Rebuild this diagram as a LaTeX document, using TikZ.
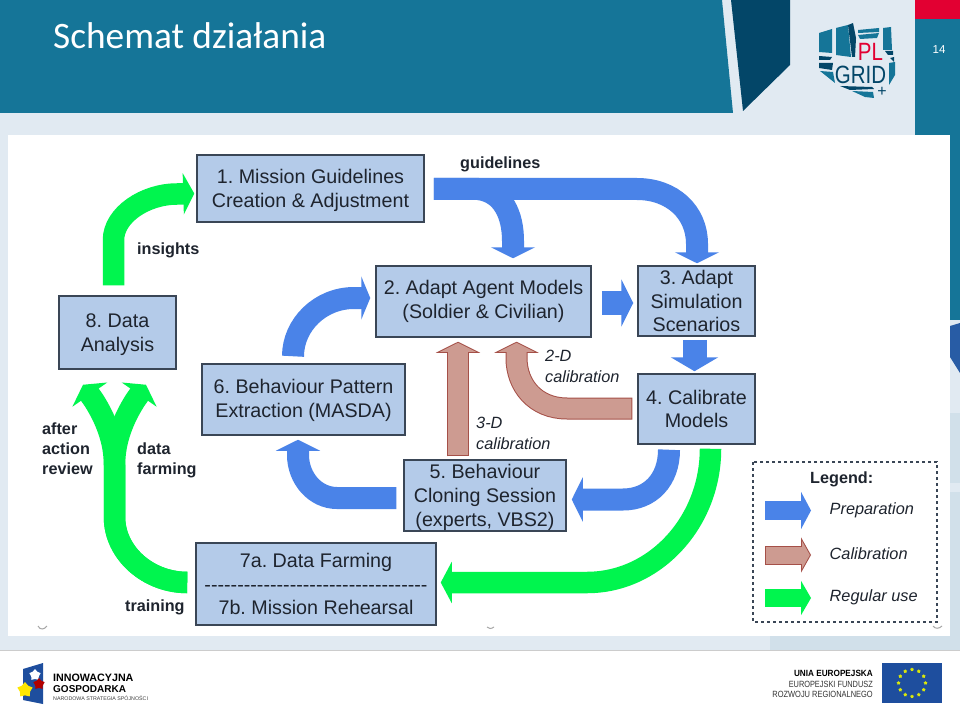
\documentclass[tikz,border=0pt]{standalone}
\usepackage{graphicx}
\usepackage{fontspec}
\setmainfont{Liberation Sans}
\newfontfamily\titlefont{Carlito}
\newfontfamily\dashfont{Liberation Sans}
\usetikzlibrary{arrows.meta,calc,shapes.geometric}
\definecolor{headteal}{RGB}{21,117,152}
\definecolor{darkteal}{RGB}{3,70,104}
\definecolor{palebg}{RGB}{225,234,242}
\definecolor{palebgb}{RGB}{209,224,234}
\definecolor{deepblue}{RGB}{40,92,165}
\definecolor{boxfill}{RGB}{180,203,233}
\definecolor{boxedge}{RGB}{58,70,86}
\definecolor{textdark}{RGB}{30,36,46}
\definecolor{prepblue}{RGB}{74,131,232}
\definecolor{regugreen}{RGB}{0,245,78}
\definecolor{califill}{RGB}{205,155,145}
\definecolor{caliedge}{RGB}{165,80,72}
\definecolor{plred}{RGB}{226,0,50}
\definecolor{eublue}{RGB}{30,78,158}
\newcommand{\lowtext}[1]{\rule{0pt}{#1}}
\tikzset{
  modelbox/.style={draw=boxedge,fill=boxfill,line width=1.5pt,inner sep=0pt,align=center,
    text=textdark,font=\fontsize{19.7}{23.6}\selectfont\frenchspacing},
  prep/.style={draw=prepblue,line width=22pt,-{Triangle[length=11pt,width=44pt]}},
  reguse/.style={draw=regugreen,line width=21.5pt,-{Triangle[length=11pt,width=41pt]}},
  calib/.style={draw=califill,line width=20pt,shorten >=1.12pt,shorten <=1pt,
    -{Triangle[length=8.9pt,width=35.5pt]},
    preaction={draw=caliedge,line width=22pt,shorten >=0pt,shorten <=0pt,
      -{Triangle[length=11pt,width=44pt]}}},
  calibsmall/.style={draw=califill,line width=17pt,shorten >=1.15pt,shorten <=1pt,
    -{Triangle[length=7.85pt,width=27.5pt]},
    preaction={draw=caliedge,line width=19pt,shorten >=0pt,shorten <=0pt,
      -{Triangle[length=10pt,width=35pt]}}},
  boldlabel/.style={inner sep=0pt,anchor=west,align=left,text=textdark,
    font=\fontsize{16.2}{20}\selectfont\bfseries},
  itlabel/.style={inner sep=0pt,anchor=west,align=left,text=textdark,
    font=\fontsize{16.3}{21}\selectfont\itshape},
  logopart/.style={fill=headteal},
  logodark/.style={fill=darkteal},
  smudge/.style={draw=gray!70,line width=1pt},
  eustar/.style={star,star points=5,fill=yellow!85!green,inner sep=0pt,minimum size=4pt}
}
\begin{document}
\begin{tikzpicture}[x=1pt,y=-1pt]
  \useasboundingbox (0,0) rectangle (960,711);
  % slide background
  \fill[palebg] (0,0) rectangle (960,711);
  \fill[palebgb] (950,413) rectangle (960,483);
  \fill[palebgb] (950,492) rectangle (960,651);
  \fill[palebgb] (770,636) rectangle (950,651);
  \fill[headteal] (0,0) -- (722,0) -- (733,113) -- (0,113) -- cycle;
  \fill[darkteal] (731,0) -- (790,0) -- (790,65) -- (743,111) -- cycle;
  \fill[headteal] (915,19) rectangle (960,135);
  \fill[headteal] (950,135) rectangle (960,320);
  \fill[plred] (915,0) rectangle (960,19);
  \fill[deepblue] (950,326) -- (960,323) -- (960,373) -- (950,357) -- cycle;
  \fill[white] (8,135) rectangle (950,636);
  \fill[white] (0,651) rectangle (960,711);
  \draw[gray!40,line width=1pt] (0,650.5) -- (960,650.5);
  \node[text=white,font=\titlefont\fontsize{37.3}{40}\selectfont,anchor=base west,inner sep=0pt]
    (title) at (53,49) {Schemat działania};
  \node[text=white,font=\fontsize{11.5}{13}\selectfont,inner sep=0pt] (pagenum) at (939,50) {14};
  % pl-grid logo
  \fill[logopart] (819,33) -- (832,29) -- (832,53) -- (819,52) -- cycle;
  \fill[logopart] (836,28) -- (848,25) -- (851,57) -- (836,55) -- cycle;
  \fill[logodark] (848,25) -- (853,23) -- (856,38) -- (855,57) -- (852,57) -- cycle;
  \fill[logopart] (858,30) -- (879,28) -- (879,32) -- (858,33) -- cycle;
  \fill[logopart] (858,35) -- (879,33) -- (877,38) -- (860,39) -- cycle;
  \fill[logopart] (883,28) -- (891,27) -- (892,50) -- (883,50) -- cycle;
  \fill[logodark] (885,51) -- (893,51) -- (893,55) -- (888,55) -- cycle;
  \fill[logodark] (819,56) -- (832,57) -- (830,60) -- (819,60) -- cycle;
  \fill[logodark] (819,63) -- (833,63) -- (832,70) -- (819,68) -- cycle;
  \fill[logopart] (820,71) -- (833,72) -- (835,83) -- cycle;
  \fill[logodark] (890,58) -- (894,57) -- (894,62) -- cycle;
  \fill[logopart] (889,63) -- (895,62) -- (895,75) -- (889,85) -- cycle;
  \fill[logodark] (840,86) -- (872,87) -- (874,89) -- (850,90) -- cycle;
  \fill[logopart] (852,91) -- (873,92) -- (874,98) -- (865,97) -- cycle;
  \node[text=plred,inner sep=0pt,font=\fontsize{25}{25}\selectfont] (logopl) at (870.5,51.5)
    {\scalebox{.82}[1]{PL}};
  \node[text=darkteal,inner sep=0pt,font=\fontsize{25}{25}\selectfont] (logogrid) at (860.5,75)
    {\scalebox{.82}[1]{GRID}};
  \node[text=darkteal,inner sep=0pt,font=\fontsize{16}{16}\selectfont] (logoplus) at (882,97) {\smash{+}};
  % footer, left
  \fill[eublue] (23,669) -- (43,663) -- (43,704) -- (23,700) -- cycle;
  \node[star,star points=5,fill=white,inner sep=0pt,minimum size=12pt] (starw) at (35,675) {};
  \node[star,star points=5,fill=red!70!black,inner sep=0pt,minimum size=12pt] (starr) at (39,684) {};
  \node[star,star points=5,fill=yellow!90!orange,inner sep=0pt,minimum size=16pt] (stary) at (25,690) {};
  \node[inner sep=0pt,anchor=west,font=\fontsize{10.7}{11}\selectfont\bfseries] (innowa) at (53,678) {INNOWACYJNA};
  \node[inner sep=0pt,anchor=west,font=\fontsize{10}{11}\selectfont\bfseries] (gospod) at (53,689) {GOSPODARKA};
  \node[inner sep=0pt,anchor=west,text=black!75,font=\fontsize{5.3}{6}\selectfont] (narodowa) at (53,698) {NARODOWA STRATEGIA SPÓJNOŚCI};
  % footer, right
  \node[inner sep=0pt,anchor=east,font=\fontsize{9}{10}\selectfont\bfseries] (unia) at (873,673) {\scalebox{.91}[1]{UNIA EUROPEJSKA}};
  \node[inner sep=0pt,anchor=east,text=black!80,font=\fontsize{9}{10}\selectfont] (fundusz) at (873,684) {\scalebox{.82}[1]{EUROPEJSKI FUNDUSZ}};
  \node[inner sep=0pt,anchor=east,text=black!80,font=\fontsize{9}{10}\selectfont] (rozwoj) at (873,694) {\scalebox{.83}[1]{ROZWOJU REGIONALNEGO}};
  \fill[eublue] (882,663) rectangle (942,703);
  \foreach \k in {0,...,11}
    \node[eustar] (eu\k) at ($(912,683)+(30*\k:13.5)$) {};
  % smudges
  \draw[smudge] (38,626) .. controls (40,630) and (44,630) .. (47,626);
  \draw[smudge] (487,627) .. controls (489,629) and (491,629) .. (494,627);
  \draw[smudge] (933,626) .. controls (935,629) and (939,629) .. (942,626);
  % steps
  \node[modelbox,minimum width=227pt,minimum height=67pt] (n1) at (310.5,188.5)
    {\lowtext{18.5pt}1. Mission Guidelines\\Creation \& Adjustment};
  \node[modelbox,minimum width=215pt,minimum height=71pt] (n2) at (483.5,301.5)
    {2. Adapt Agent Models\\(Soldier \& Civilian)};
  \node[modelbox,minimum width=117pt,minimum height=70pt] (n3) at (696.5,301)
    {3. Adapt\\Simulation\\Scenarios};
  \node[modelbox,minimum width=117pt,minimum height=70pt] (n4) at (696.5,409)
    {4. Calibrate\\Models};
  \node[modelbox,minimum width=162pt,minimum height=71pt] (n5) at (485,495.5)
    {\lowtext{18pt}5. Behaviour\\Cloning Session\\(experts, VBS2)};
  \node[modelbox,minimum width=203pt,minimum height=71pt] (n6) at (303.5,399.5)
    {\lowtext{16.5pt}6. Behaviour Pattern\\Extraction (MASDA)};
  \node[modelbox,minimum width=240pt,minimum height=82pt] (n7) at (316,584)
    {7a. Data Farming\\{\dashfont ----------------------------------}\\7b. Mission Rehearsal};
  \node[modelbox,minimum width=117pt,minimum height=73pt] (n8) at (117.5,332.5)
    {\lowtext{18.5pt}8. Data\\Analysis};
  % regular use
  \draw[reguse] ($(n8.north)+(-4,-10)$) -- (113.5,240) .. controls (113.5,215) and (145,194) .. (177,194)
    -- ($(n1.west)+(-2,5)$);
  \draw[reguse,-{Triangle[length=12pt,width=42pt]}] ($(n7.west)+(-8,-1.5)$) .. controls (148,582.5) and (114.5,553) .. (114.5,517)
    -- (114.5,465) .. controls (114.5,440) and (105,418) .. (94,400.6) -- ($(n8.south)+(-34.5,15)$);
  \draw[reguse,-{Triangle[length=12pt,width=42pt]}] ($(n7.west)+(-8,-1.5)$) .. controls (148,582.5) and (114.5,553) .. (114.5,517)
    -- (114.5,465) .. controls (114.5,440) and (124,418) .. (135,400.6) -- ($(n8.south)+(28.5,15)$);
  \draw[reguse] ($(n4.south)+(14,4)$) .. controls (710.5,522) and (655,582.5) .. (587,582.5)
    -- ($(n7.east)+(4,-1.5)$);
  % preparation
  \draw[prep] ($(n1.east)+(9,0.5)$) -- (637,189) .. controls (672,189) and (697,212) .. (697,244)
    -- ($(n3.north)+(0.5,-2)$);
  \draw[prep] ($(n1.east)+(9,0.5)$) -- (478,189) .. controls (503,192) and (513,215) .. (513,241)
    -- ($(n2.north)+(29.5,-7)$);
  \draw[prep,line width=24pt,-{Triangle[length=12pt,width=47pt]}] ($(n2.east)+(10,1.5)$) -- ($(n3.west)+(-4,2)$);
  \draw[prep,line width=24pt,-{Triangle[length=14pt,width=47pt]}] ($(n3.south)+(-2,3)$) -- ($(n4.north)+(-2,-2)$);
  \draw[prep] ($(n4.south)+(-27.5,5)$) .. controls (669,480) and (650,499.5) .. (623,499.5)
    -- ($(n5.east)+(5,4)$);
  \draw[prep] ($(n5.west)+(-7,2.5)$) -- (337,498) .. controls (315,498) and (298,478) .. (298,455)
    -- ($(n6.south)+(-5.5,4)$);
  \draw[prep,-{Triangle[length=9pt,width=43pt]}] ($(n6.north)+(-10.5,-7)$) .. controls (293,325) and (320,298) .. (354,298)
    -- ($(n2.west)+(-5,-3.5)$);
  % calibration
  \draw[calib] ($(n5.north)+(-27,-3)$) -- ($(n2.south)+(-25.5,4)$);
  \draw[calib] ($(n4.west)+(-5,-0.5)$) -- (567,408.5) .. controls (535,408.5) and (516.5,385) .. (516.5,358)
    -- ($(n2.south)+(33,4)$);
  % arrow labels
  \node[boldlabel] (lblguide) at (460,164) {guidelines};
  \node[boldlabel] (lblinsight) at (137,250) {insights};
  \node[boldlabel] (lblafter) at (42,449) {after\\action\\review};
  \node[boldlabel] (lblfarm) at (137,460) {data\\farming};
  \node[boldlabel] (lbltrain) at (125,607) {training};
  \node[itlabel] (lbltwod) at (545,366.5) {2-D\\calibration};
  \node[itlabel] (lblthreed) at (476,433) {3-D\\calibration};
  % legend
  \draw[dashed,draw=boxedge,line width=1.3pt] (753,462) rectangle (937,622);
  \node[boldlabel] (lgdtitle) at (810,479) {Legend:};
  \coordinate (lgdprepa) at (765,510.5);
  \coordinate (lgdprepb) at (811,510.5);
  \coordinate (lgdcala) at (765,555);
  \coordinate (lgdcalb) at (811,555);
  \coordinate (lgdrega) at (765,598);
  \coordinate (lgdregb) at (811,598);
  \draw[prep,line width=19pt,-{Triangle[length=10pt,width=37pt]}] (lgdprepa) -- (lgdprepb);
  \draw[calibsmall] (lgdcala) -- (lgdcalb);
  \draw[reguse,line width=18pt,-{Triangle[length=10pt,width=34pt]}] (lgdrega) -- (lgdregb);
  \node[itlabel] (lgdprep) at (829.5,510) {Preparation};
  \node[itlabel] (lgdcal) at (829.5,554) {Calibration};
  \node[itlabel] (lgdreg) at (829.5,597) {Regular use};
\end{tikzpicture}
\end{document}
